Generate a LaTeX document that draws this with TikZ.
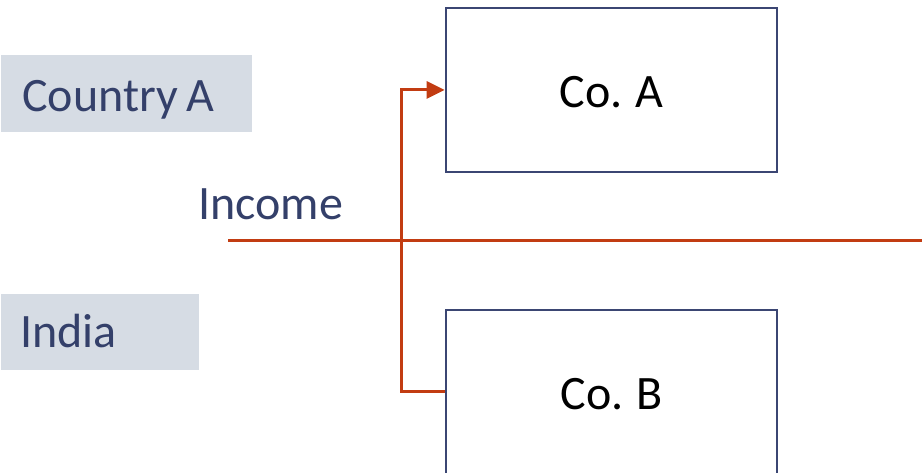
\documentclass[tikz,border=0pt]{standalone}
\usepackage{fontspec}
\setmainfont{Carlito}[WordSpace=0.8]
\usetikzlibrary{arrows.meta}
\definecolor{navy}{HTML}{34406A}
\definecolor{boxedge}{HTML}{3B4673}
\definecolor{panel}{HTML}{D6DCE4}
\definecolor{flowred}{HTML}{C23C12}
\tikzset{
  company/.style={draw=boxedge, line width=2.7pt, minimum width=331pt, minimum height=164pt,
    inner sep=0pt},
  bigtext/.style={font=\fontsize{48}{58}\selectfont, inner sep=0pt},
  tagtext/.style={bigtext, anchor=base west, text=navy},
  flow/.style={draw=flowred, line width=3pt},
}
\begin{document}
\begin{tikzpicture}[x=1pt,y=1pt]
\useasboundingbox (0,0) rectangle (922,473);
\clip (0,0) rectangle (922,473);
% region tags
\fill[panel] (1,418) rectangle (252,341);
\node[tagtext] (ctryA) at (22,361) {Country A};
\fill[panel] (1,179) rectangle (199,103);
\node[tagtext] (india) at (20,125) {India};
% companies
\node[company] (coA) at (611.5,383) {};
\node[bigtext, anchor=base] (coAtext) at (611.5,365) {Co. A};
\node[company] (coB) at (611.5,81) {};
\node[bigtext, anchor=base] (coBtext) at (611.5,63) {Co. B};
% border between the two countries
\coordinate (bl) at (228,232);
\coordinate (br) at (922,232);
\draw[flow] (bl) -- (br);
\node[tagtext] (inc) at (198,253) {Income};
% income flow from Co. B to Co. A
\coordinate (turn) at (401,81);
\draw[flow, -{Triangle[length=18pt,width=17pt]}] (coB.west) -- (turn) |- (coA.west);
\end{tikzpicture}
\end{document}
